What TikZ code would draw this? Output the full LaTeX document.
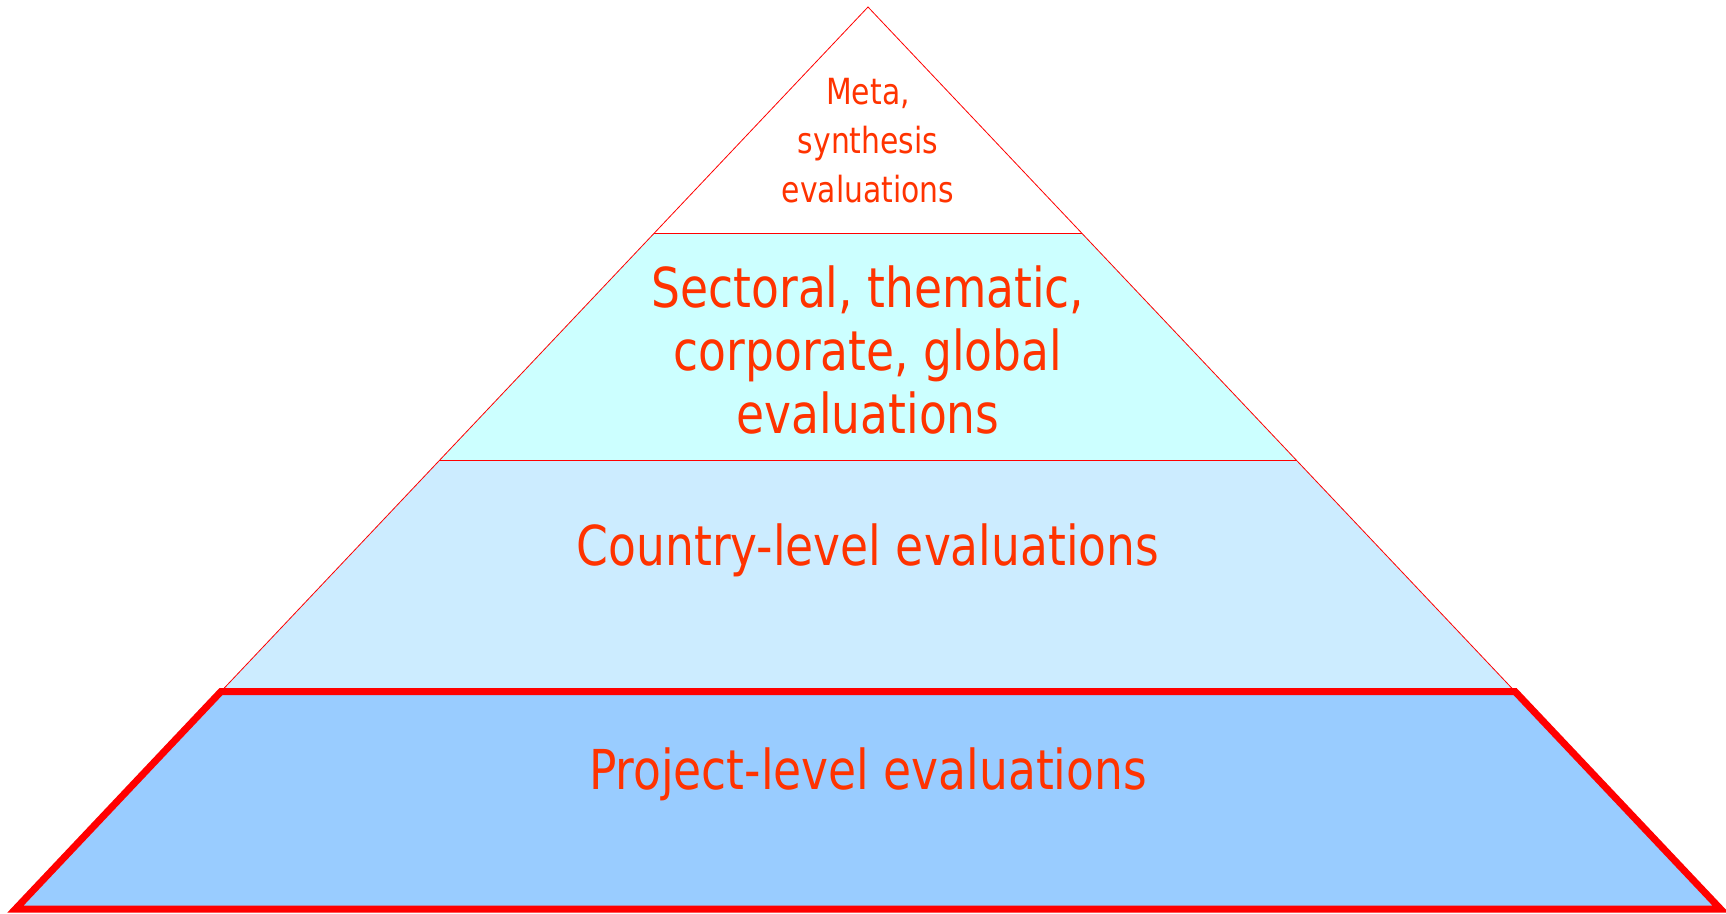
\documentclass[tikz,border=0pt]{standalone}
\usepackage{fontspec}
\setmainfont[FakeStretch=0.92]{DejaVu Sans Condensed}
\definecolor{txt}{HTML}{FF3300}
\definecolor{bandA}{HTML}{CCFFFF}
\definecolor{bandB}{HTML}{CCECFF}
\definecolor{bandC}{HTML}{99CCFF}
\definecolor{edge}{HTML}{FF0000}
\begin{document}
\begin{tikzpicture}[x=1pt,y=-1pt,
  thinedge/.style={draw=edge,line width=0.8pt},
  thickedge/.style={draw=edge,line width=7pt,line join=miter},
  lbl/.style={text=txt,align=center,inner sep=0pt}]
\useasboundingbox (0,0) rectangle (1726,913);
% corner coordinates
\coordinate (apex) at (868,7);
\coordinate (l1) at (653.8,233.5); \coordinate (r1) at (1082.2,233.5);
\coordinate (l2) at (439,460.7);   \coordinate (r2) at (1297,460.7);
\coordinate (l3) at (221,691.5);   \coordinate (r3) at (1515,691.5);
\coordinate (l4) at (15.5,909);    \coordinate (r4) at (1720.5,909);
% fills
\fill[white] (apex) -- (r1) -- (l1) -- cycle;
\fill[bandA] (l1) -- (r1) -- (r2) -- (l2) -- cycle;
\fill[bandB] (l2) -- (r2) -- (r3) -- (l3) -- cycle;
\fill[bandC] (l3) -- (r3) -- (r4) -- (l4) -- cycle;
% thin outlines
\draw[thinedge] (l3) -- (apex) -- (r3);
\draw[thinedge] (l1) -- (r1);
\draw[thinedge] (l2) -- (r2);
% thick bottom band
\draw[thickedge] (l3) -- (r3) -- (r4) -- (l4) -- cycle;
% labels
\node[lbl,font=\fontsize{36}{49}\selectfont] (meta) at (868,141) {Meta,\\synthesis\\evaluations};
\node[lbl,font=\fontsize{55}{63}\selectfont] (sect) at (868,350) {Sectoral, thematic,\\corporate, global\\evaluations};
\node[lbl,font=\fontsize{55}{63}\selectfont] (country) at (868,550) {Country-level evaluations};
\node[lbl,font=\fontsize{55}{63}\selectfont] (project) at (868,774) {Project-level evaluations};
\end{tikzpicture}
\end{document}
